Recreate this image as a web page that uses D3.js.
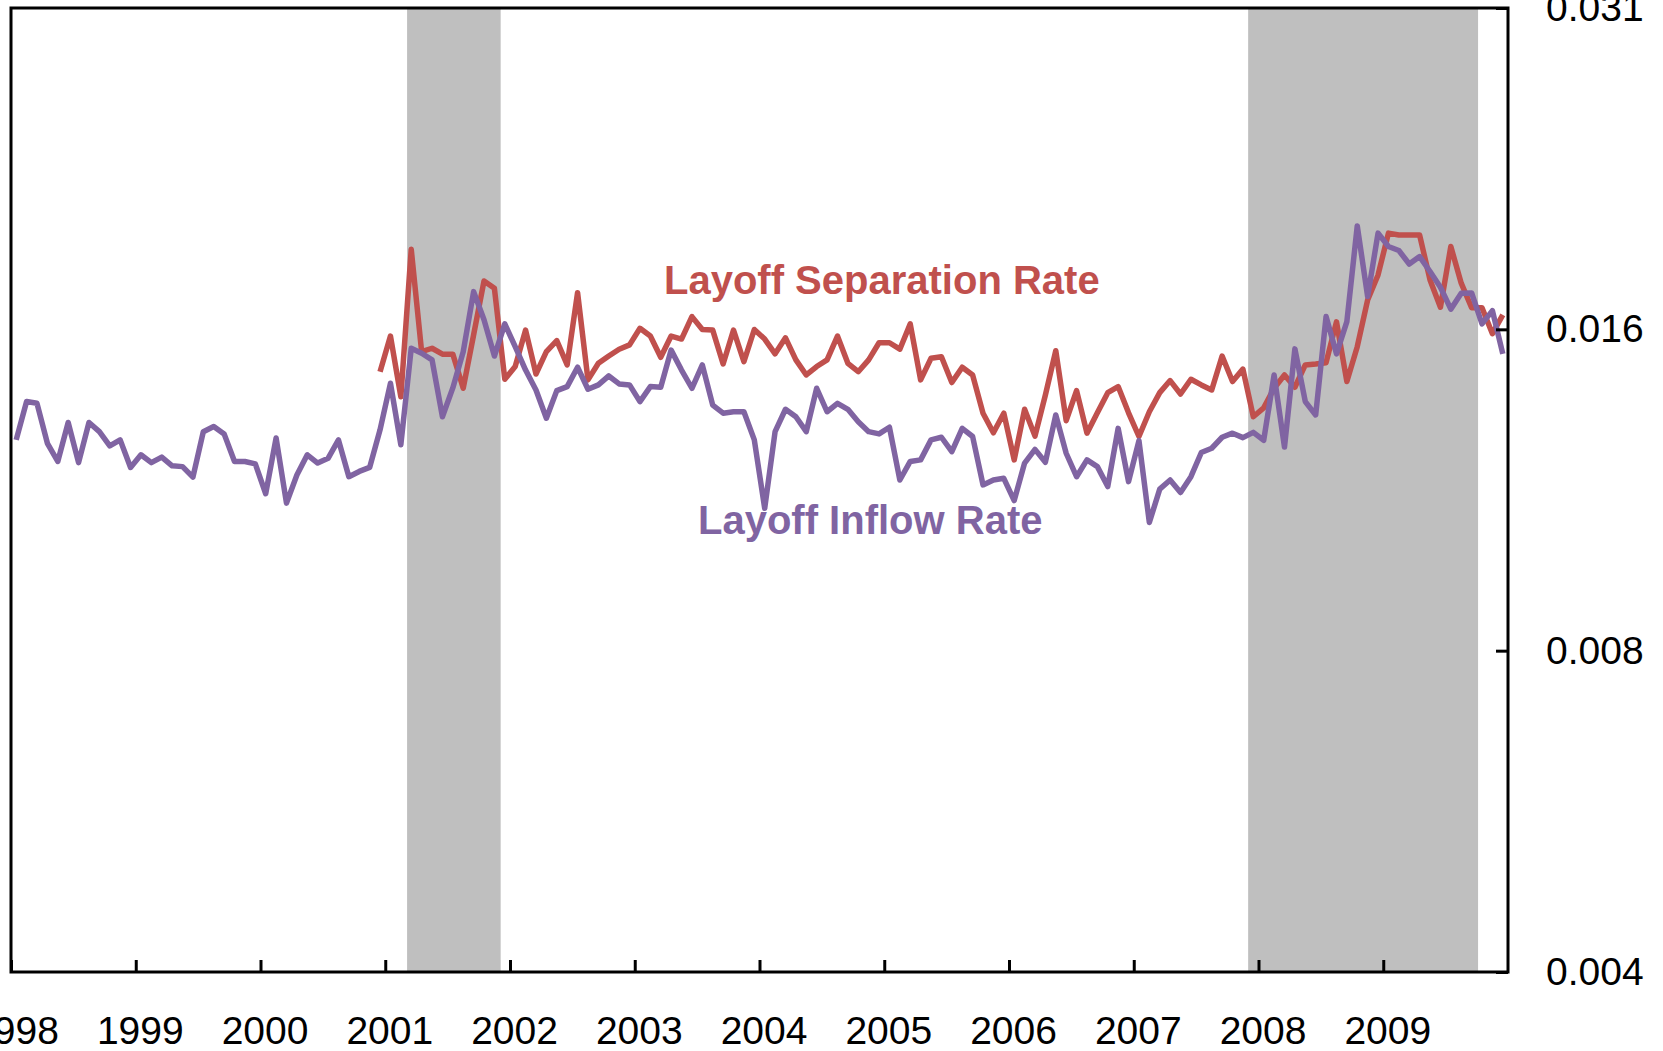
<!DOCTYPE html>
<meta charset="utf-8">
<style>
body { margin: 0; background: #fff; }
svg { display: block; font-family: Arial, "Liberation Sans", sans-serif; }
.axis text { font-size: 39px; fill: #000; }
.axis .domain { display: none; }
.axis line { stroke: #000; stroke-width: 3px; }
.frame { fill: none; stroke: #000; stroke-width: 3px; }
.series { fill: none; stroke-width: 5.5px; stroke-linejoin: round; }
.lbl { font-size: 40px; font-weight: bold; }
</style>
<body>
<svg width="1663" height="1051"></svg>
<script src="https://cdn.jsdelivr.net/npm/d3@7"></script>
<script>

// monthly layoff inflow rate, Jan 1998 - Dec 2009
var inflowStart = [1998, 0];
var inflowRate = [
  0.01231, 0.01337, 0.01332, 0.01222, 0.01175, 0.01278, 0.01172, 0.01278, 0.01253, 0.01215, 0.01231, 0.01160,
  0.01192, 0.01172, 0.01186, 0.01164, 0.01162, 0.01136, 0.01253, 0.01267, 0.01247, 0.01175, 0.01175, 0.01169,
  0.01096, 0.01236, 0.01074, 0.01141, 0.01192, 0.01171, 0.01183, 0.01231, 0.01137, 0.01150, 0.01160, 0.01258,
  0.01391, 0.01218, 0.01500, 0.01484, 0.01463, 0.01294, 0.01377, 0.01489, 0.01695, 0.01595, 0.01475, 0.01581,
  0.01505, 0.01431, 0.01371, 0.01290, 0.01369, 0.01381, 0.01440, 0.01373, 0.01386, 0.01413, 0.01389, 0.01386,
  0.01337, 0.01381, 0.01379, 0.01494, 0.01431, 0.01376, 0.01447, 0.01327, 0.01304, 0.01308, 0.01308, 0.01231,
  0.01062, 0.01253, 0.01315, 0.01294, 0.01253, 0.01376, 0.01308, 0.01332, 0.01315, 0.01280, 0.01253, 0.01247,
  0.01265, 0.01129, 0.01175, 0.01179, 0.01231, 0.01238, 0.01200, 0.01262, 0.01240, 0.01117, 0.01129, 0.01133,
  0.01080, 0.01171, 0.01206, 0.01173, 0.01299, 0.01196, 0.01137, 0.01179, 0.01162, 0.01113, 0.01262, 0.01125,
  0.01229, 0.01030, 0.01107, 0.01129, 0.01099, 0.01137, 0.01198, 0.01209, 0.01238, 0.01249, 0.01237, 0.01251,
  0.01230, 0.01416, 0.01212, 0.01498, 0.01337, 0.01299, 0.01606, 0.01482, 0.01589, 0.01953, 0.01677, 0.01923,
  0.01868, 0.01852, 0.01799, 0.01828, 0.01770, 0.01711, 0.01632, 0.01689, 0.01690, 0.01581, 0.01627, 0.01482
];

// monthly layoff separation rate, Dec 2000 - Dec 2009
var separationStart = [2000, 11];
var separationRate = [
  0.01426,
  0.01540, 0.01351, 0.01857, 0.01489, 0.01500, 0.01481, 0.01481, 0.01376, 0.01544, 0.01734, 0.01707, 0.01403,
  0.01442, 0.01560, 0.01419, 0.01489, 0.01525, 0.01447, 0.01691, 0.01401, 0.01452, 0.01475, 0.01497, 0.01511,
  0.01566, 0.01540, 0.01471, 0.01540, 0.01530, 0.01606, 0.01562, 0.01560, 0.01450, 0.01560, 0.01457, 0.01562,
  0.01530, 0.01482, 0.01534, 0.01463, 0.01416, 0.01442, 0.01463, 0.01540, 0.01452, 0.01426, 0.01463, 0.01518,
  0.01518, 0.01497, 0.01581, 0.01401, 0.01468, 0.01473, 0.01393, 0.01440, 0.01416, 0.01304, 0.01250, 0.01304,
  0.01179, 0.01315, 0.01241, 0.01356, 0.01492, 0.01283, 0.01369, 0.01249, 0.01305, 0.01363, 0.01381, 0.01305,
  0.01240, 0.01308, 0.01363, 0.01399, 0.01359, 0.01403, 0.01386, 0.01371, 0.01475, 0.01396, 0.01434, 0.01294,
  0.01319, 0.01376, 0.01416, 0.01379, 0.01447, 0.01450, 0.01454, 0.01588, 0.01396, 0.01505, 0.01665, 0.01757,
  0.01923, 0.01915, 0.01915, 0.01915, 0.01738, 0.01639, 0.01868, 0.01726, 0.01637, 0.01637, 0.01548, 0.01612
];

// recession bands (decimal years)
var recessions = [[2001.175, 2001.925], [2007.917, 2009.76]];

var yearTicks = d3.range(1998, 2010);
var rateTicks = [0.00390625, 0.0078125, 0.015625, 0.03125];

var svg = d3.select("svg"),
    plotL = 11, plotR = 1508, plotT = 8, plotB = 972;

var x = d3.scaleLinear()
    .domain([1998, 2010])
    .range([plotL, plotR]);

var y = d3.scaleLog()
    .base(2)
    .domain([rateTicks[0], rateTicks[3]])
    .range([plotB, plotT]);

function toSeries(start, vals) {
  return vals.map(function(v, i) {
    return { t: start[0] + (start[1] + i + 0.5) / 12, v: v };
  });
}

svg.append("g")
  .selectAll("rect")
  .data(recessions)
  .enter().append("rect")
    .attr("x", function(d) { return x(d[0]); })
    .attr("y", plotT)
    .attr("width", function(d) { return x(d[1]) - x(d[0]); })
    .attr("height", plotB - plotT)
    .attr("fill", "#bfbfbf");

var line = d3.line()
    .x(function(d) { return x(d.t); })
    .y(function(d) { return y(d.v); });

svg.append("path")
    .datum(toSeries(separationStart, separationRate))
    .attr("class", "series")
    .attr("stroke", "#c0504d")
    .attr("d", line);

svg.append("path")
    .datum(toSeries(inflowStart, inflowRate))
    .attr("class", "series")
    .attr("stroke", "#8064a2")
    .attr("d", line);

svg.append("g")
    .attr("class", "axis")
    .attr("transform", "translate(0," + plotB + ")")
    .call(d3.axisBottom(x)
      .tickValues(yearTicks)
      .tickFormat(d3.format("d"))
      .tickSizeInner(-12)
      .tickSizeOuter(0))
  .selectAll("text")
    .attr("x", 4)
    .attr("y", 72)
    .attr("dy", 0);

svg.append("g")
    .attr("class", "axis")
    .attr("transform", "translate(" + plotR + ",0)")
    .call(d3.axisRight(y)
      .tickValues(rateTicks)
      .tickFormat(d3.format(".3f"))
      .tickSizeInner(-12)
      .tickSizeOuter(0)
      .tickPadding(38));

svg.append("rect")
    .attr("class", "frame")
    .attr("x", plotL)
    .attr("y", plotT)
    .attr("width", plotR - plotL)
    .attr("height", plotB - plotT);

svg.append("text")
    .attr("class", "lbl")
    .attr("x", 664)
    .attr("y", 294)
    .attr("fill", "#c0504d")
    .text("Layoff Separation Rate");

svg.append("text")
    .attr("class", "lbl")
    .attr("x", 698)
    .attr("y", 534)
    .attr("fill", "#8064a2")
    .text("Layoff Inflow Rate");

</script>
</body>
